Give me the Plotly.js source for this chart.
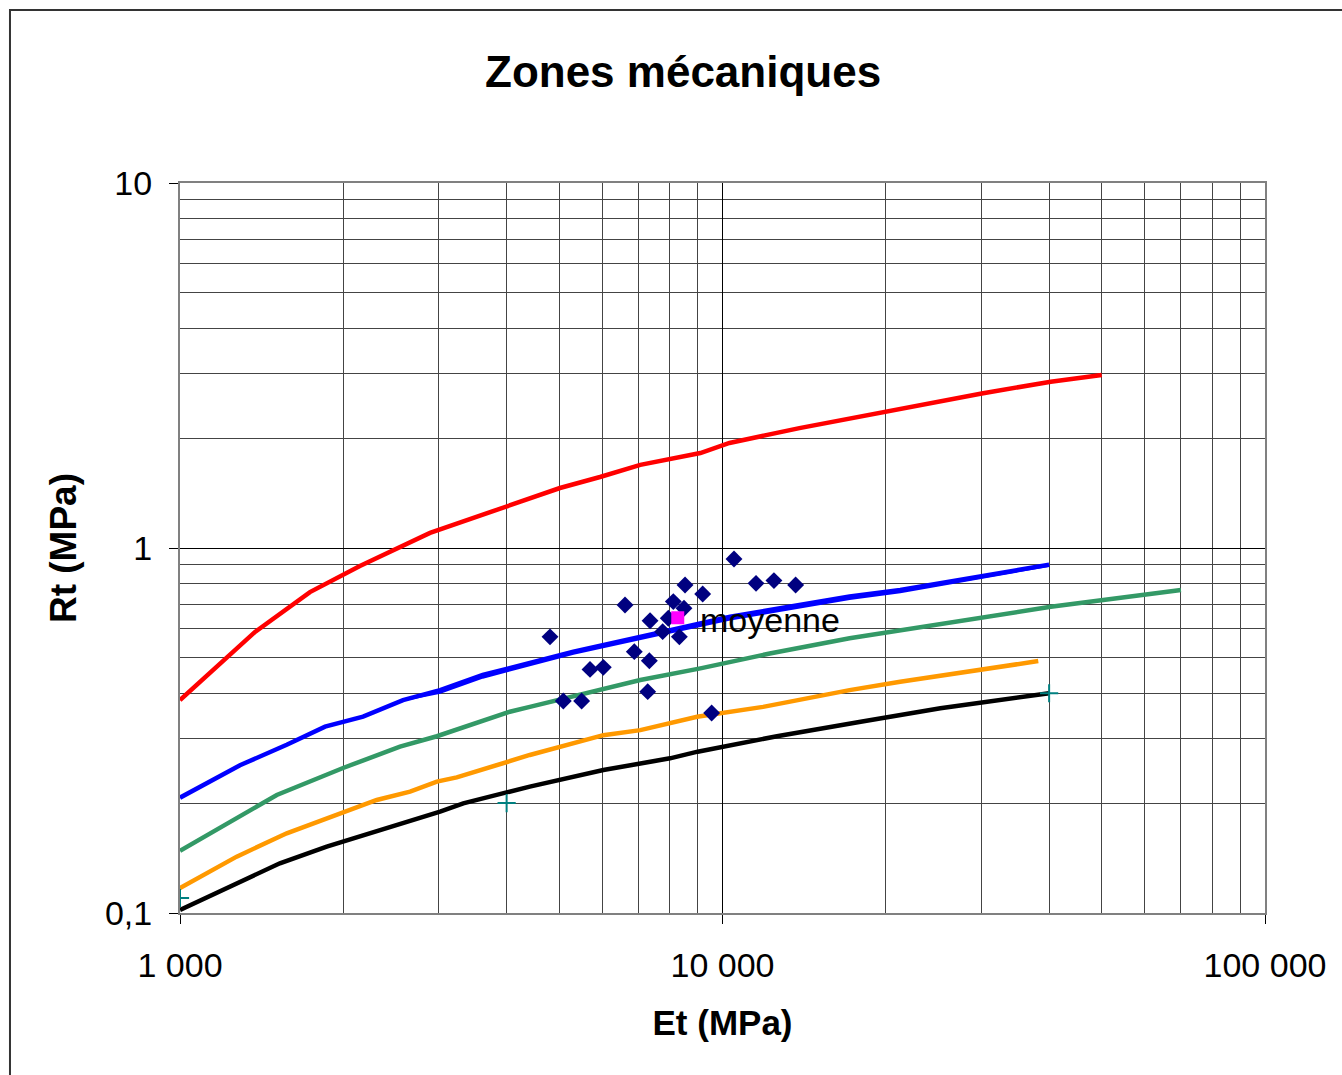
<!DOCTYPE html>
<html><head><meta charset="utf-8">
<script src="https://cdn.plot.ly/plotly-3.0.1.min.js"></script>
<style>body{margin:0;background:#fff}#chart{width:1342px;height:1075px}</style>
</head><body><div id="chart"></div>
<script>
// Zone boundary curves (Et in MPa, Rt in MPa)
const redE   = [1000, 1375, 1736, 2146, 2890, 3574, 4058, 5016, 5946, 7055, 9104, 10300, 13860, 21260, 30050, 40280, 50000];
const redR   = [0.383, 0.589, 0.757, 0.893, 1.10, 1.23, 1.31, 1.46, 1.565, 1.69, 1.82, 1.94, 2.13, 2.41, 2.65, 2.855, 2.98];
const blueE  = [1000, 1290, 1573, 1851, 2175, 2577, 3016, 3614, 4414, 5310, 7780, 10330, 17150, 21260, 40000];
const blueR  = [0.207, 0.254, 0.289, 0.324, 0.345, 0.383, 0.408, 0.449, 0.484, 0.520, 0.590, 0.648, 0.736, 0.767, 0.90];
const blue2E = [2577, 3016, 3614, 4414, 5310, 7780, 10330, 17150, 21260, 40000];
const blue2R = [0.383, 0.402, 0.442, 0.479, 0.514, 0.582, 0.638, 0.726, 0.757, 0.895];
const greenE = [1000, 1508, 1998, 2544, 2975, 3570, 4055, 4414, 5628, 7055, 9104, 12220, 17150, 21260, 40280, 70000];
const greenR = [0.148, 0.2105, 0.2496, 0.2855, 0.305, 0.334, 0.356, 0.367, 0.400, 0.435, 0.468, 0.514, 0.566, 0.596, 0.690, 0.767];
const orangeE = [1000, 1272, 1573, 1837, 2305, 2655, 2975, 3237, 4000, 4414, 6030, 7055, 8980, 11880, 17150, 21260, 38200];
const orangeR = [0.117, 0.1427, 0.1653, 0.1805, 0.204, 0.215, 0.229, 0.2353, 0.2598, 0.271, 0.307, 0.317, 0.345, 0.367, 0.408, 0.430, 0.490];
const blackE = [1000, 1272, 1528, 1864, 2240, 2578, 3016, 3328, 3945, 4414, 6030, 8003, 9000, 12600, 17980, 25210, 40000];
const blackR = [0.102, 0.1206, 0.1368, 0.152, 0.1653, 0.176, 0.1895, 0.1998, 0.2128, 0.222, 0.2465, 0.2653, 0.2767, 0.305, 0.334, 0.364, 0.400];
// Reference points (+)
const refE = [1000, 4000, 40000];
const refR = [0.11, 0.20, 0.40];
// Measured samples
const sampE = [4809, 5088, 5500, 5699, 6030, 6612, 6877, 7280, 7331, 7353, 7757, 7945, 8116, 8327, 8492, 8530, 9194, 9550, 10500, 11530, 12440, 13640];
const sampR = [0.571, 0.381, 0.381, 0.465, 0.471, 0.698, 0.520, 0.404, 0.491, 0.632, 0.590, 0.642, 0.713, 0.571, 0.684, 0.792, 0.748, 0.353, 0.933, 0.800, 0.814, 0.792];
// Mean
const meanE = [8270];
const meanR = [0.644];
const meanLabel = ["moyenne"];

const xMajor = [1000, 10000, 100000];
const xMajorText = ["1 000", "10 000", "100 000"];
const yMajor = [0.1, 1, 10];
const yMajorText = ["0,1", "1", "10"];
const xMinor = [2000,3000,4000,5000,6000,7000,8000,9000,20000,30000,40000,50000,60000,70000,80000,90000];
const yMinor = [0.2,0.3,0.4,0.5,0.6,0.7,0.8,0.9,2,3,4,5,6,7,8,9];

const line = (x, y, c, w) => ({x, y, type: 'scatter', mode: 'lines', line: {color: c, width: w}, hoverinfo: 'x+y'});
const traces = [
  line(redE, redR, '#FF0000', 4.5),
  line(blueE, blueR, '#0000FF', 4.5),
  line(blue2E, blue2R, '#0000FF', 2.5),
  line(greenE, greenR, '#339966', 4.5),
  line(orangeE, orangeR, '#FF9900', 4.5),
  line(blackE, blackR, '#000000', 4.5),
  {x: refE, y: refR, type: 'scatter', mode: 'markers',
   marker: {symbol: 'cross-thin-open', size: 13, color: '#008080', line: {color: '#008080', width: 2}}},
  {x: sampE, y: sampR, type: 'scatter', mode: 'markers',
   marker: {symbol: 'diamond', size: 13, color: '#000080'}},
  {x: meanE, y: meanR, type: 'scatter', mode: 'markers',
   marker: {symbol: 'square', size: 13, color: '#FF00FF'}}
];

const font = 'Liberation Sans, Arial, sans-serif';
const layout = {
  width: 1342, height: 1075,
  margin: {l: 180, r: 77, t: 183, b: 162},
  paper_bgcolor: '#fff', plot_bgcolor: '#fff',
  showlegend: false,
  font: {family: font, color: '#000'},
  title: {text: '<b>Zones mécaniques</b>', font: {family: font, size: 44, color: '#000'},
          x: 0.509, xanchor: 'center', y: 0.933, yanchor: 'middle', xref: 'container', yref: 'container'},
  xaxis: {
    type: 'log', range: [3, 5],
    tickmode: 'array', tickvals: xMajor, ticktext: xMajorText,
    tickfont: {family: font, size: 34, color: '#000'},
    ticks: 'outside', ticklen: 9, tickcolor: '#000', tickwidth: 1, ticklabelstandoff: 12,
    showgrid: true, gridcolor: '#000', gridwidth: 1,
    minor: {tickmode: 'array', tickvals: xMinor, showgrid: true, gridcolor: '#444', gridwidth: 1, ticks: ''},
    showline: true, linecolor: '#808080', linewidth: 2, mirror: true,
    zeroline: false,
    title: {text: '<b>Et (MPa)</b>', font: {family: font, size: 35, color: '#000'}, standoff: 28}
  },
  yaxis: {
    type: 'log', range: [-1, 1],
    tickmode: 'array', tickvals: yMajor, ticktext: yMajorText,
    tickfont: {family: font, size: 34, color: '#000'},
    ticks: 'outside', ticklen: 9, tickcolor: '#000', tickwidth: 1, ticklabelstandoff: 10,
    showgrid: true, gridcolor: '#000', gridwidth: 1,
    minor: {tickmode: 'array', tickvals: yMinor, showgrid: true, gridcolor: '#444', gridwidth: 1, ticks: ''},
    showline: true, linecolor: '#808080', linewidth: 2, mirror: true,
    zeroline: false,
    title: {text: '<b>Rt (MPa)</b>', font: {family: font, size: 37, color: '#000'}, standoff: 17}
  },
  annotations: [{x: Math.log10(meanE[0]), y: Math.log10(meanR[0]), xref: 'x', yref: 'y',
                 text: meanLabel[0], showarrow: false, xanchor: 'left', yanchor: 'middle',
                 xshift: 20, yshift: -2, font: {family: font, size: 34, color: '#000'}}],
  shapes: [{type: 'rect', xref: 'paper', yref: 'paper',
            x0: -0.1567, x1: 2, y0: -2, y1: 1.2370,
            line: {color: '#333', width: 2}, fillcolor: 'rgba(0,0,0,0)', layer: 'above'}]
};
Plotly.newPlot('chart', traces, layout, {displayModeBar: false, staticPlot: true});
</script></body></html>
